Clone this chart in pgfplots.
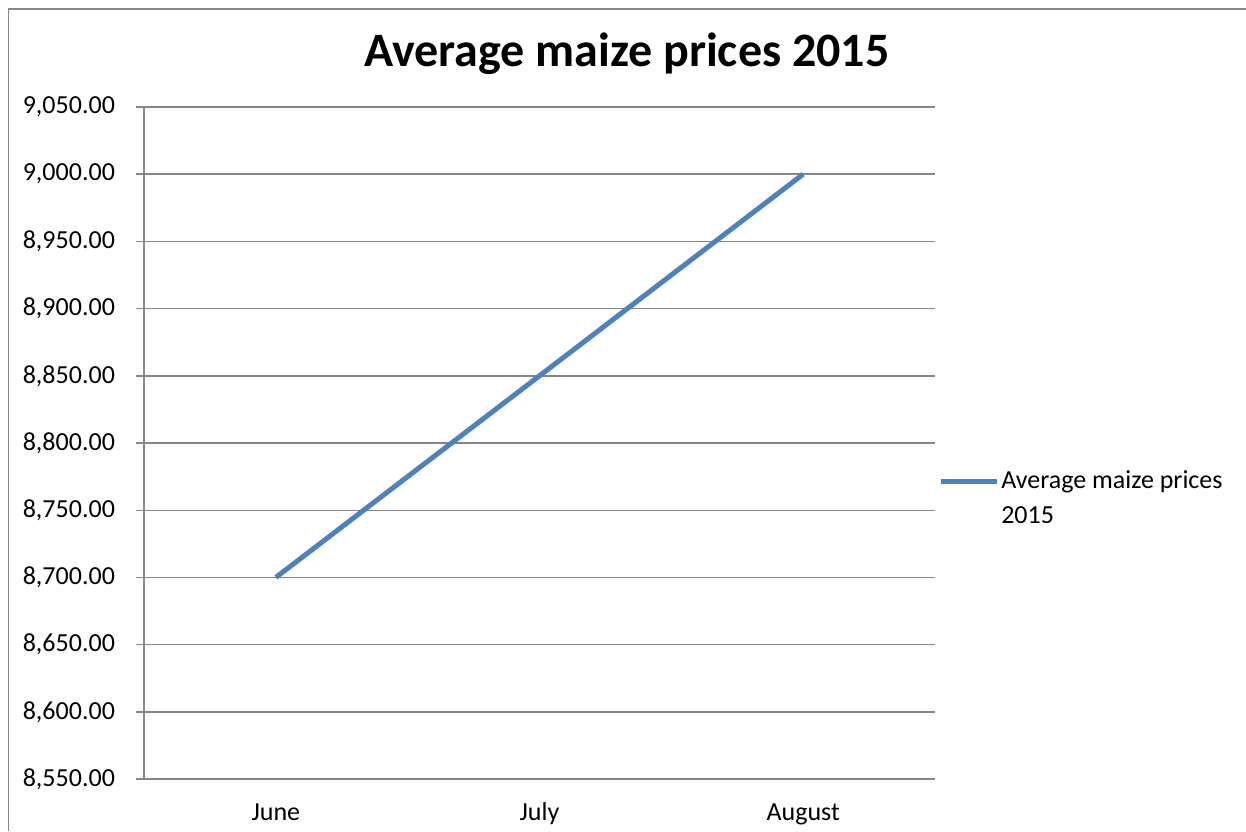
\documentclass[border=0pt]{standalone}
\usepackage{pgfplots}
\pgfplotsset{compat=1.18}
\usepackage{fontspec}
\setmainfont{Carlito}
\definecolor{gridgray}{HTML}{868686}
\definecolor{serblue}{HTML}{4F81BD}
\begin{document}
\begin{tikzpicture}
\useasboundingbox (0pt,0pt) rectangle (623pt,415.5pt);
\draw[gridgray, line width=0.8pt] (4.25pt,0pt) -- (4.25pt,411pt) -- (623pt,411pt);
\node[font=\fontsize{24}{28}\selectfont\bfseries, anchor=base] at (313.5pt,382pt) {Average maize prices 2015};
\begin{axis}[
  at={(72pt,26pt)}, anchor=south west,
  scale only axis, width=395.5pt, height=336pt,
  xmin=-0.5, xmax=2.5, ymin=8550, ymax=9050,
  ytick={8550,8600,...,9050},
  xtick={0,1,2}, xticklabels={June,July,August},
  extra x ticks={-0.5,0.5,1.5,2.5}, extra x tick labels={},
  extra x tick style={major tick length=4pt, tick style={gridgray, line width=0.7pt}, grid=none},
  axis lines*=left,
  axis line style={gridgray, line width=0.7pt, -},
  ymajorgrids, grid style={gridgray, line width=0.7pt},
  tick align=outside, major tick length=4pt,
  x tick style={draw=none},
  y tick style={gridgray, line width=0.7pt},
  tick label style={font=\fontsize{13}{15}\selectfont, text=black},
  xticklabel style={anchor=base, yshift=-16.5pt},
  yticklabel style={xshift=-7pt},
  /pgf/number format/assume math mode=true,
  yticklabel={\pgfmathprintnumber[fixed, fixed zerofill, precision=2, 1000 sep={,}]{\tick}},
  legend style={at={(0.996,0.4174)}, anchor=west, draw=none, fill=none, font=\fontsize{13}{17.5}\selectfont, legend cell align=left, nodes={align=left, inner sep=1pt}},
  legend image code/.code={\path[draw=none, fill=none] (0pt,-8.75pt) rectangle (0.1pt,9.5pt); \draw[#1, line width=2.5pt] (0pt,8.75pt) -- (28pt,8.75pt);},
]
\addplot[serblue, line width=2.5pt] coordinates {(0,8700) (1,8850) (2,9000)};
\addlegendentry{Average maize prices\\2015}
\end{axis}
\end{tikzpicture}
\end{document}
